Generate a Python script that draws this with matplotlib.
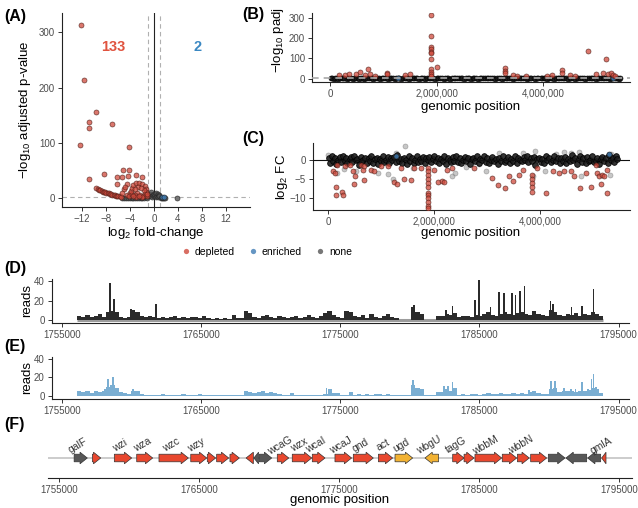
import numpy as np
import matplotlib.pyplot as plt
from matplotlib.lines import Line2D
from matplotlib.ticker import FuncFormatter

plt.rcParams['font.family'] = ['Liberation Sans', 'DejaVu Sans']
plt.rcParams['mathtext.fontset'] = 'custom'
plt.rcParams['mathtext.rm'] = 'Liberation Sans'
plt.rcParams['mathtext.it'] = 'Liberation Sans:italic'
plt.rcParams['mathtext.bf'] = 'Liberation Sans:bold'

# ---------------- data ----------------
# (A) volcano: log2 fold-change, -log10 padj
deplA_lfc = [-12.2, -11.6, -12.3, -10.8, -10.8, -9.7, -7.05, -4.2, -10.8, -8.3, -6.2, -5.1, -4.1,
             -5.3, -4.3, -3.0, -2.05, -6.1, -4.4, -9.6, -9.3, -9.1, -8.9, -8.7, -8.5, -8.3, -8.1,
             -7.9, -7.7, -7.5, -7.3, -7.1, -6.9, -6.7, -6.5, -6.3, -6.1, -5.9, -5.7, -5.5, -5.0,
             -5.3, -4.8, -4.5, -4.0, -4.2, -3.6, -3.8, -3.7, -3.4, -2.9, -2.4, -1.9, -1.5, -1.3,
             -1.3, -1.5, -1.8, -2.3, -2.8, -3.2, -3.0, -2.0, -1.2, -1.1, -2.6, -3.1, -3.5, -2.5,
             -1.7, -2.1]
deplA_padj = [313, 214, 96, 137, 127, 155, 135, 93, 34, 43, 38, 51, 51,
              39, 40, 42, 38, 26, 26, 19, 17, 15, 14, 13, 12, 11, 10.5,
              10, 9, 8.5, 7.5, 7, 6, 5.5, 5, 4.5, 4, 3.5, 3, 2.5, 16,
              9, 20, 6, 10, 3, 8, 13, 18, 23, 27, 28, 26, 22, 17,
              12, 7, 4, 6, 10, 5, 2, 2, 3, 8, 20, 16, 3, 3.5,
              15, 19]
noneA_lfc = [-5.3, -4.9, -4.6, -4.3, -4.0, -3.7, -3.4, -3.1, -2.8, -2.5, -2.2, -1.9, -1.6, -1.3,
             -1.1, -0.9, -0.8, -0.6, -0.5, -0.4, -0.3, -0.2, 0.0, 0.1, 0.2, 0.3, 0.4, 0.5, 0.6,
             0.7, 0.8, 0.9, 1.1, 1.3, 1.5, 1.7, 1.9, 3.8]
noneA_padj = [0.6, 0.4, 0.8, 0.3, 0.5, 0.9, 0.3, 0.7, 0.4, 1.0, 0.5, 1.1, 0.6, 1.2,
              0.8, 3, 5, 7, 4, 11, 2, 6, 3, 8, 5, 1.5, 9, 4, 7,
              2.5, 5, 3, 1.0, 0.6, 0.9, 0.4, 0.3, 1.0]
enrA_lfc = [1.4, 1.7]
enrA_padj = [1.6, 1.4]
n_depleted, n_enriched = 133, 2

# (B) genomic position (Mb) vs -log10 padj, significant genes
deplB_pos = [0.16, 0.28, 0.36, 0.49, 0.56, 0.66, 0.71, 0.74, 0.84, 1.06, 1.07, 1.41, 1.50,
             1.89, 1.89, 1.89, 1.90, 1.89, 1.90, 1.89, 1.89, 1.89, 1.89, 1.90, 2.00,
             3.28, 3.28, 3.28, 3.44, 3.50, 3.68, 4.07, 4.16, 4.35, 4.35, 4.50, 4.60,
             4.85, 5.00, 5.13, 5.18, 5.22, 5.28, 5.31, 5.34]
deplB_padj = [17, 17, 22, 22, 33, 17, 45, 22, 12, 28, 22, 17, 22,
              313, 213, 158, 145, 133, 125, 97, 45, 33, 25, 15, 55,
              50, 38, 28, 17, 13, 12, 12, 17, 42, 28, 17, 12,
              137, 25, 28, 95, 25, 28, 17, 12]
enrB_pos = [1.27, 5.31]
enrB_padj = [2.0, 1.6]

# (C) genomic position (Mb) vs log2 FC
deplC_pos = [0.095, 0.12, 0.14, 0.14, 0.17, 0.32, 0.26, 0.28, 0.41, 0.47, 0.48, 0.51, 0.62, 0.65,
             0.67, 0.68, 0.80, 0.87, 0.99, 1.12, 1.25, 1.30, 1.37, 1.43, 1.56, 1.62, 1.75,
             1.89, 1.89, 1.89, 1.89, 1.89, 1.89, 1.89, 1.89, 1.89, 1.89, 1.89, 1.89,
             2.00, 2.08, 2.15, 2.18, 2.24, 2.34, 2.75, 3.10, 3.20, 3.33, 3.42, 3.49, 3.60,
             3.67, 3.85, 3.85, 3.85, 3.85, 3.85, 3.95, 4.11, 4.24, 4.36, 4.45, 4.58, 4.64,
             4.75, 4.86, 4.96, 5.05, 5.08, 5.12, 5.15, 5.18, 5.21, 5.26, 5.27]
deplC_lfc = [-3.0, -3.5, -7.0, -9.0, -1.3, -1.7, -8.4, -9.0, -1.3, -3.0, -6.3, -4.3, -1.3, -2.6,
             -1.7, -5.2, -2.6, -3.0, -1.5, -1.7, -5.7, -6.3, -2.0, -5.0, -5.2, -2.2, -2.0,
             -2.0, -3.0, -4.0, -5.0, -6.0, -7.0, -8.5, -9.2, -10.0, -11.0, -12.0, -12.6,
             -2.6, -5.7, -5.5, -5.8, -2.6, -2.0, -2.0, -4.8, -6.5, -7.2, -4.3, -5.5, -3.9,
             -2.6, -4.0, -5.0, -6.0, -7.0, -8.4, -2.2, -8.7, -3.0, -3.5, -2.9, -3.0, -4.3,
             -7.4, -3.3, -7.0, -1.3, -3.5, -4.3, -6.3, -3.9, -4.3, -8.7, -2.6]
enrC_pos = [1.27, 5.31]
enrC_lfc = [1.1, 1.5]
# non-significant genes away from the dense band
greyC_pos = [0.00, 0.17, 0.52, 0.93, 1.12, 1.23, 1.27, 1.45, 2.34, 2.40, 2.85, 2.98, 3.23, 3.67,
             3.86, 3.91, 4.10, 4.46, 4.59, 4.74, 4.77, 5.32, 5.34, 0.30, 1.60, 2.60, 4.30]
greyC_lfc = [1.3, -3.5, -3.0, -3.5, -3.6, -5.0, 1.7, 3.7, -4.3, -3.5, -1.1, -2.9, 1.7, 1.7,
             -4.3, 2.2, -3.0, 2.0, 1.7, 2.0, -4.1, -3.9, 1.5, -2.4, -2.0, -1.8, 1.6]
# non-significant genes (dense band)
none_pos = [0.01, 0.04, 0.07, 0.09, 0.12, 0.15, 0.19, 0.22, 0.24, 0.27,
            0.31, 0.34, 0.36, 0.40, 0.43, 0.45, 0.49, 0.52, 0.55, 0.58,
            0.61, 0.64, 0.66, 0.70, 0.73, 0.76, 0.79, 0.81, 0.85, 0.88,
            0.91, 0.94, 0.97, 1.00, 1.03, 1.06, 1.09, 1.12, 1.15, 1.18,
            1.21, 1.24, 1.27, 1.30, 1.33, 1.37, 1.40, 1.43, 1.46, 1.49,
            1.52, 1.55, 1.58, 1.61, 1.64, 1.67, 1.70, 1.73, 1.76, 1.79,
            1.82, 1.85, 1.88, 1.91, 1.94, 1.97, 2.00, 2.03, 2.07, 2.10,
            2.13, 2.16, 2.19, 2.22, 2.26, 2.29, 2.32, 2.35, 2.38, 2.42,
            2.45, 2.48, 2.51, 2.55, 2.58, 2.61, 2.64, 2.68, 2.71, 2.74,
            2.77, 2.81, 2.84, 2.87, 2.90, 2.94, 2.97, 3.00, 3.04, 3.07,
            3.10, 3.13, 3.17, 3.20, 3.23, 3.26, 3.30, 3.33, 3.36, 3.39,
            3.43, 3.46, 3.49, 3.52, 3.56, 3.59, 3.62, 3.65, 3.69, 3.72,
            3.75, 3.78, 3.82, 3.85, 3.88, 3.91, 3.95, 3.98, 4.01, 4.04,
            4.08, 4.11, 4.14, 4.17, 4.21, 4.24, 4.27, 4.30, 4.34, 4.37,
            4.40, 4.43, 4.47, 4.50, 4.53, 4.56, 4.60, 4.63, 4.66, 4.69,
            4.73, 4.76, 4.79, 4.82, 4.86, 4.89, 4.92, 4.95, 4.99, 5.02,
            5.05, 5.08, 5.12, 5.15, 5.18, 5.21, 5.25, 5.28, 5.31, 5.34,
            5.37, 5.40, 5.43, 5.45]
none_lfc = [0.4, -0.7, 0.9, -0.2, 0.6, -1.1, 0.1, 0.8, -0.5, 1.0,
            -0.3, 0.5, -0.9, 0.2, 0.7, -0.6, 1.1, -0.1, 0.3, -1.2,
            0.8, -0.4, 0.0, 0.6, -0.8, 0.4, -0.2, 1.0, -0.7, 0.2,
            0.5, -1.0, 0.3, -0.3, 0.9, -0.5, 0.1, 0.7, -0.9, 0.4,
            -0.1, 0.8, -0.6, 1.2, -0.4, 0.2, -0.8, 0.6, 0.0, -1.1,
            0.9, -0.3, 0.4, -0.7, 0.1, 1.0, -0.5, 0.3, -0.2, 0.7,
            -0.9, 0.5, -0.1, 0.8, -0.6, 0.2, 1.1, -0.4, 0.6, -0.8,
            0.3, -0.2, 0.9, -1.0, 0.5, 0.0, -0.6, 0.7, -0.3, 1.0,
            -0.5, 0.4, -0.9, 0.1, 0.8, -0.4, 0.6, -1.1, 0.2, 0.5,
            -0.2, 0.9, -0.7, 0.3, -0.1, 1.1, -0.6, 0.4, -0.8, 0.0,
            0.7, -0.4, 0.2, -1.0, 0.6, -0.2, 0.9, -0.5, 0.1, 0.8,
            -0.7, 0.3, -0.3, 1.0, -0.9, 0.5, 0.0, -0.4, 0.7, -0.1,
            1.1, -0.6, 0.4, -0.2, 0.8, -1.2, 0.2, 0.6, -0.5, 0.3,
            -0.8, 0.9, -0.1, 0.5, -0.6, 0.1, 1.0, -0.3, 0.4, -0.9,
            0.6, -0.2, 0.8, -0.7, 0.3, -0.4, 1.2, -0.1, 0.5, -1.0,
            0.2, 0.9, -0.5, 0.4, -0.8, 0.7, -0.3, 0.1, 1.0, -0.6,
            -0.2, 0.6, -1.1, 0.3, 0.8, -0.4, 0.5, -0.7, 1.3, -0.1,
            0.4, -0.5, 0.9, 0.2]
none_padj = [0.5, 1.2, 0.3, 2.1, 0.8, 0.1, 1.6, 0.4, 3.0, 0.9,
             0.2, 1.4, 0.6, 2.5, 0.1, 1.0, 0.7, 3.4, 0.3, 1.8,
             0.9, 0.2, 1.5, 0.4, 2.8, 0.6, 1.1, 0.3, 2.2, 0.5,
             1.3, 0.1, 2.6, 0.8, 0.4, 1.9, 0.2, 3.1, 0.7, 1.2,
             0.3, 2.0, 0.6, 1.4, 0.1, 2.9, 0.5, 1.7, 0.9, 0.2,
             1.6, 0.4, 2.3, 0.8, 1.0, 0.3, 3.3, 0.6, 1.5, 0.2,
             2.4, 0.7, 1.1, 0.4, 2.7, 0.1, 1.8, 0.9, 0.5, 2.1,
             0.3, 1.3, 0.6, 3.0, 0.2, 1.7, 0.8, 2.5, 0.4, 1.0,
             0.6, 2.2, 0.1, 1.4, 0.9, 3.2, 0.3, 1.6, 0.7, 2.0,
             0.2, 1.2, 0.5, 2.8, 0.8, 1.9, 0.4, 1.1, 0.6, 2.6,
             0.1, 1.5, 0.9, 2.3, 0.3, 1.0, 0.7, 3.4, 0.5, 1.8,
             0.2, 2.1, 0.6, 1.3, 0.4, 2.9, 0.8, 1.6, 0.3, 1.1,
             2.4, 0.5, 1.9, 0.2, 3.1, 0.7, 1.4, 0.4, 2.2, 0.9,
             0.1, 1.7, 0.6, 2.7, 0.3, 1.2, 0.8, 2.0, 0.5, 1.5,
             0.4, 3.0, 0.2, 1.8, 0.7, 2.5, 0.3, 1.1, 0.9, 2.3,
             0.6, 1.4, 0.1, 2.8, 0.5, 1.6, 0.8, 3.3, 0.2, 1.0,
             0.7, 2.1, 0.4, 1.3, 0.9, 2.6, 0.3, 1.9, 0.6, 1.2,
             0.5, 2.4, 0.1, 1.7]

# (D)/(E) read coverage, 300 bp bins from 1,756,100 plus narrow peaks
bin_start, bin_width = 1756100, 300
readsD = [4, 3, 5, 3, 4, 6, 3, 8, 9, 8, 3, 2, 3, 10, 8, 4, 3, 4,
          3, 2, 3, 2, 3, 4, 2, 3, 2, 3, 3, 2, 4, 2, 1, 2, 1, 2, 1, 5, 2, 2, 9, 7,
          3, 2, 4, 5, 3, 2, 4, 3, 2, 3, 4, 2, 3, 5, 3, 2, 4, 7, 9, 5, 3, 2, 9, 8,
          4, 3, 5, 2, 6, 3, 2, 4, 6, 3, 2, 0, 0, 0, 13, 8, 6, 0, 0, 0, 4,
          4, 6, 5, 7, 3, 4, 4, 3, 5, 4, 6, 8, 5, 4, 6, 8, 6, 5, 7, 8, 6, 5, 9, 6,
          5, 4, 10, 8, 5, 4, 6, 5, 7, 4, 6, 5, 8, 6, 4]
peakD_pos = [1758450, 1758730, 1759950, 1761750, 1774120, 1780300, 1782600, 1783070, 1784670,
             1784960, 1785800, 1786400, 1786740, 1787330, 1787600, 1787900, 1788240, 1790110,
             1790300, 1791620, 1792380, 1793200]
peakD_h = [38, 22, 11, 16, 9, 15, 10, 14, 21, 41, 13, 29, 28, 28, 26, 30, 35, 20, 16, 13, 14, 32]
readsE = [5, 4, 6, 3, 5, 4, 6, 10, 12, 9, 4, 3, 2, 6, 5, 2, 1, 1,
          1, 1, 2, 1, 1, 1, 1, 2, 1, 1, 1, 2, 1, 1, 1, 1, 1, 1, 1, 1, 1, 1, 5, 4,
          3, 4, 5, 3, 4, 3, 2, 1, 1, 3, 1, 1, 1, 1, 1, 1, 1, 2, 8, 3, 3, 1, 1, 4,
          1, 2, 1, 2, 1, 2, 2, 1, 2, 1, 1, 1, 1, 1, 12, 9, 8, 1, 1, 1, 4,
          4, 8, 6, 9, 1, 2, 1, 2, 2, 1, 2, 3, 2, 2, 3, 2, 2, 3, 2, 3, 2, 4, 5, 3,
          2, 2, 8, 9, 4, 5, 6, 5, 4, 6, 5, 7, 9, 8, 3]
peakE_pos = [1758100, 1758350, 1758660, 1760120, 1774020, 1780230, 1782450, 1782750, 1783070,
             1788570, 1790150, 1790450, 1791100, 1791600, 1791900, 1792360, 1792800, 1793050,
             1793200, 1793400]
peakE_h = [8, 18, 20, 8, 9, 17, 11, 11, 15, 7, 16, 16, 9, 8, 8, 15, 8, 18, 24, 10]

# (F) genes in the locus
gene_start = [1756060, 1757360, 1758930, 1760530, 1762120, 1764390, 1765570, 1766240, 1767190,
              1768340, 1768900, 1769290, 1770570, 1771640, 1773070, 1774690, 1776000, 1777790,
              1778980, 1781120, 1783100, 1783910, 1784690, 1786640, 1787720, 1788670, 1789930,
              1791190, 1792740, 1793740]
gene_end = [1757000, 1757960, 1760170, 1761670, 1764220, 1765530, 1766170, 1767100, 1767860,
            1768860, 1769230, 1770170, 1771390, 1773030, 1773980, 1775880, 1777430, 1778810,
            1780240, 1782090, 1783910, 1784620, 1786600, 1787670, 1788570, 1789810, 1791120,
            1792670, 1793670, 1794050]
gene_strand = ['+', '+', '+', '+', '+', '+', '+', '+', '+', '-', '-', '+', '+', '+', '+',
               '+', '+', '+', '+', '-', '+', '+', '+', '+', '+', '+', '+', '-', '-', '-']
gene_kind = ['other', 'cps', 'cps', 'cps', 'cps', 'cps', 'cps', 'cps', 'cps', 'cps', 'other',
             'other', 'cps', 'cps', 'cps', 'cps', 'cps', 'cps', 'sugar', 'sugar', 'cps', 'cps',
             'cps', 'cps', 'cps', 'cps', 'other', 'other', 'other', 'cps']
gene_name = ['galF', '', 'wzi', 'wza', 'wzc', 'wzy', '', '', '', '', '', '', 'wcaG', 'wzx',
             'wcaI', 'wcaJ', 'gnd', 'act', 'ugd', 'wbgU', 'tagG', '', 'wbbM', '', 'wbbN', '',
             '', '', '', 'gmlA']

# ---------------- styling ----------------
RED = '#cf4a3c'
BLUE = '#3f7cb4'
DARK = '#1e1e1e'
TICK = '#4d4d4d'
kind_color = {'cps': '#e8472e', 'sugar': '#f2b232', 'other': '#575757'}

W, H = 638, 508
fig = plt.figure(figsize=(W / 100, H / 100), dpi=100)


def add_ax(l, t, r, b):
    return fig.add_axes([l / W, 1 - b / H, (r - l) / W, (b - t) / H])


def style(ax):
    ax.spines['top'].set_visible(False)
    ax.spines['right'].set_visible(False)
    for s in ['left', 'bottom']:
        ax.spines[s].set_linewidth(0.8)
        ax.spines[s].set_color('#222222')
    ax.tick_params(length=3, width=0.7, color='#333333', labelsize=7, labelcolor=TICK, pad=2)


def ftext(x, y, s, **kw):
    fig.text(x / W, 1 - y / H, s, ha='center', va='center', **kw)


pt = dict(s=13, linewidths=0.5)
mb_fmt = FuncFormatter(lambda x, p: f'{int(round(x * 1e6)):,}')
dash = (0, (4, 3))

# (A)
ax = add_ax(62, 13, 250, 207)
style(ax)
ax.axhline(1.3, color='#b0b0b0', ls=dash, lw=0.8, zorder=1)
ax.axvline(-1, color='#b0b0b0', ls=dash, lw=0.8, zorder=1)
ax.axvline(1, color='#b0b0b0', ls=dash, lw=0.8, zorder=1)
ax.axvline(0, color='#222222', lw=0.8, zorder=1)
ax.scatter(noneA_lfc, noneA_padj, facecolor='#555555', edgecolor='#222222', alpha=0.8, zorder=2, **pt)
ax.scatter(enrA_lfc, enrA_padj, facecolor=BLUE, edgecolor='#222222', alpha=0.8, zorder=2, **pt)
ax.scatter(deplA_lfc, deplA_padj, facecolor=RED, edgecolor='#4a1c16', alpha=0.75, zorder=3, **pt)
ax.text(-6.8, 273, str(n_depleted), color='#e0533f', weight='bold', fontsize=10.5, ha='center', va='center')
ax.text(7.2, 273, str(n_enriched), color='#3b88c2', weight='bold', fontsize=10.5, ha='center', va='center')
ax.set_xlim(-15.3, 16)
ax.set_ylim(-16, 335)
ax.set_xticks([-12, -8, -4, 0, 4, 8, 12])
ax.set_yticks([0, 100, 200, 300])
ftext(25, 110, '\u2212log$_{10}$ adjusted p-value', rotation=90, fontsize=9.5)
ftext(156, 233, 'log$_2$ fold-change', fontsize=9.5)

# (B)
ax = add_ax(312, 13, 630, 82)
style(ax)
ax.scatter(none_pos, none_padj, facecolor=DARK, edgecolor='#000000', alpha=0.9, zorder=2, **pt)
ax.scatter(enrB_pos, enrB_padj, facecolor=BLUE, edgecolor='#222222', alpha=0.8, zorder=2, **pt)
ax.scatter(deplB_pos, deplB_padj, facecolor=RED, edgecolor='#4a1c16', alpha=0.75, zorder=3, **pt)
ax.axhline(1.3, color='#a8a8a8', ls=dash, lw=1.2, zorder=4)
ax.set_xlim(-0.34, 5.63)
ax.set_ylim(-17, 325)
ax.set_xticks([0, 2, 4])
ax.xaxis.set_major_formatter(mb_fmt)
ax.set_yticks([0, 100, 200, 300])
ftext(278, 40, '\u2212log$_{10}$ padj', rotation=90, fontsize=9.5)
ftext(471, 107, 'genomic position', fontsize=9.5)

# (C)
ax = add_ax(313, 143, 630, 210)
style(ax)
ax.scatter(greyC_pos, greyC_lfc, facecolor='#9a9a9a', edgecolor='#777777', alpha=0.55, zorder=2, **pt)
ax.scatter(none_pos, none_lfc, s=17, linewidths=0.6, facecolor=DARK, edgecolor='#000000',
           alpha=0.9, zorder=2)
ax.scatter(enrC_pos, enrC_lfc, facecolor=BLUE, edgecolor='#222222', alpha=0.8, zorder=3, **pt)
ax.scatter(deplC_pos, deplC_lfc, facecolor=RED, edgecolor='#4a1c16', alpha=0.75, zorder=3, **pt)
ax.axhline(0, color='#111111', lw=0.8, zorder=4)
ax.set_xlim(-0.29, 5.7)
ax.set_ylim(-13, 4.4)
ax.set_xticks([0, 2, 4])
ax.xaxis.set_major_formatter(mb_fmt)
ax.set_yticks([-10, -5, 0])
ftext(282, 177, 'log$_2$ FC', rotation=90, fontsize=9.5)
ftext(471, 233, 'genomic position', fontsize=9.5)

# legend
handles = [Line2D([], [], ls='', marker='o', ms=3.8, mfc=c, mec='none', alpha=0.8)
           for c in [RED, BLUE, '#555555']]
fig.legend(handles, ['depleted', 'enriched', 'none'], loc='center', ncol=3,
           bbox_to_anchor=(265 / W, 1 - 252 / H), frameon=False, fontsize=7.5,
           handletextpad=0.1, columnspacing=1.0, handlelength=1.5)

# (D) and (E)
locus_lim = (1754282, 1795747)
locus_ticks = [1755000, 1765000, 1775000, 1785000, 1795000]
centers = bin_start + bin_width * (np.arange(len(readsD)) + 0.5)
data_end = bin_start + bin_width * len(readsD)
for (t, b), reads, peak_pos, peak_h, col in [((278.7, 323), readsD, peakD_pos, peakD_h, '#2b2b2b'),
                                             ((356.7, 398.7), readsE, peakE_pos, peakE_h, '#7aaed2')]:
    ax = add_ax(51.7, t, 629, b)
    style(ax)
    if col == '#2b2b2b':
        ax.plot([bin_start, data_end], [0, 0], color='#9c9c9c', lw=2.2, zorder=1,
                solid_capstyle='butt')
    ax.bar(centers, reads, width=bin_width, color=col, lw=0, zorder=2)
    ax.bar(peak_pos, peak_h, width=130, color=col, lw=0, zorder=2)
    ax.set_xlim(*locus_lim)
    ax.set_ylim(-2.7, 42)
    ax.set_yticks([0, 20, 40])
    ax.set_xticks(locus_ticks)
    ax.set_xticklabels([str(v) for v in locus_ticks])
    ftext(27, (t + b) / 2, 'reads', rotation=90, fontsize=9.5)

# (F)
ax = add_ax(48, 436, 632, 478)
style(ax)
ax.spines['left'].set_visible(False)
ax.set_yticks([])
ax.plot([1754210, 1795880], [0, 0], color='#c4c4c4', lw=1.2, zorder=1)
bh, hh = 0.19, 0.29
for s, e, strand, kind, name in zip(gene_start, gene_end, gene_strand, gene_kind, gene_name):
    hl = min(520, e - s)
    if strand == '+':
        tip, base, body = e, e - hl, s
    else:
        tip, base, body = s, s + hl, e
    if hl == e - s:
        xs = [base, tip, base]
        ys = [-hh, 0, hh]
    else:
        xs = [body, base, base, tip, base, base, body]
        ys = [-bh, -bh, -hh, 0, hh, bh, bh]
    ax.fill(xs, ys, facecolor=kind_color[kind], edgecolor='#333333', lw=0.5, zorder=3)
    if name:
        ax.text((s + e) / 2, 0.42, name, rotation=30, rotation_mode='anchor', ha='center',
                va='bottom', fontsize=7.5, color='#333333', clip_on=False)
ax.set_xlim(1754193, 1795907)
ax.set_ylim(-1.0, 1.1)
ax.set_xticks(locus_ticks)
ax.set_xticklabels([str(v) for v in locus_ticks])
ftext(340, 500, 'genomic position', fontsize=9.5)

# panel letters
for x, y, lab in [(4, 16, '(A)'), (242, 15, '(B)'), (242, 138, '(C)'), (4, 268, '(D)'),
                  (4, 346, '(E)'), (4, 425, '(F)')]:
    fig.text(x / W, 1 - y / H, lab, ha='left', va='center', fontsize=11.5, weight='bold')

fig.savefig('out.png', dpi=100)
